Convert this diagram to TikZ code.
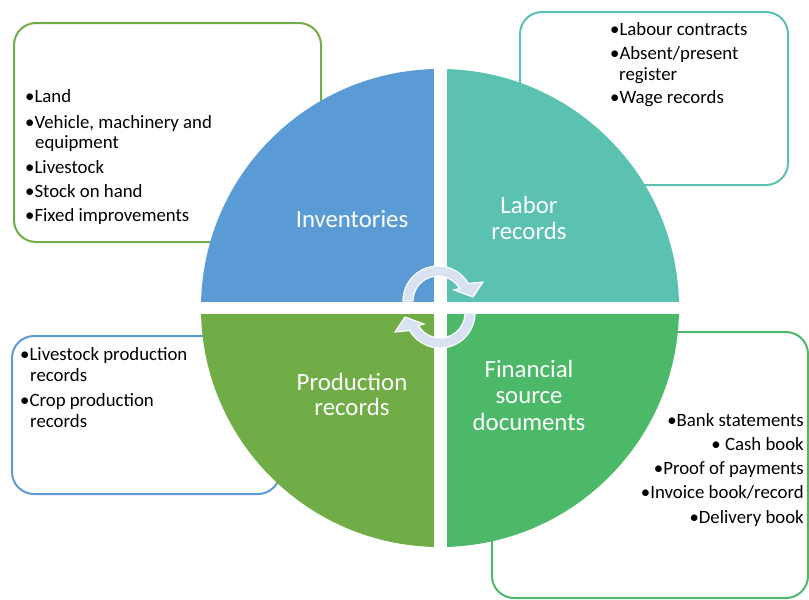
\documentclass[tikz,border=0pt]{standalone}
\usepackage{fontspec}
\setmainfont{Carlito}
\definecolor{cInv}{RGB}{91,155,213}
\definecolor{cLab}{RGB}{91,194,178}
\definecolor{cPro}{RGB}{112,173,71}
\definecolor{cFin}{RGB}{76,185,104}
\definecolor{arrowfill}{RGB}{216,226,242}
\begin{document}
\begin{tikzpicture}[x=1pt,y=-1pt,
  box/.style={line width=2pt, rounded corners=22pt},
  bul/.style={anchor=base west, inner sep=0pt, font=\fontsize{18.8}{21}\selectfont},
  bulr/.style={anchor=base east, inner sep=0pt, font=\fontsize{18.8}{21}\selectfont},
  lab/.style={anchor=base, inner sep=0pt, text=white, font=\fontsize{24.8}{26}\selectfont},
  arr/.style={fill=arrowfill, draw=white, line width=1.2pt}]
\useasboundingbox (0,0) rectangle (809,600);
\clip (0,0) rectangle (809,600);
% outline boxes
\draw[box, draw=cPro] (14,23) rectangle (321,242);
\draw[box, draw=cLab] (520,12) rectangle (788,185);
\draw[box, draw=cInv] (12,336) rectangle (280,494);
\draw[box, draw=cFin] (492,332) rectangle (808,598);
% quadrants
\fill[cInv] (440,308) -- +(180:239) arc[start angle=180,end angle=270,radius=239] -- cycle;
\fill[cLab] (440,308) -- +(270:239) arc[start angle=270,end angle=360,radius=239] -- cycle;
\fill[cFin] (440,308) -- +(0:239) arc[start angle=0,end angle=90,radius=239] -- cycle;
\fill[cPro] (440,308) -- +(90:239) arc[start angle=90,end angle=180,radius=239] -- cycle;
% white gaps
\fill[white] (433.5,60) rectangle (446.5,556);
\fill[white] (195,302) rectangle (685,314);
% circular arrows
\begin{scope}[shift={(438,301)}]
\filldraw[arr] (180:35) arc[start angle=180,end angle=330,radius=35] -- (45,-19) -- (35,-4) -- (16,-11) -- (330:25) arc[start angle=330,end angle=180,radius=25] -- cycle;
\end{scope}
\begin{scope}[shift={(440,313)}]
\filldraw[arr] (0:35) arc[start angle=0,end angle=150,radius=35] -- (-45,19) -- (-35,4) -- (-16,11) -- (150:25) arc[start angle=150,end angle=0,radius=25] -- cycle;
\end{scope}
% labels
\node[lab] (inv) at (352,227) {Inventories};
\node[lab] (lab1) at (529,213) {Labor};
\node[lab] (lab2) at (529,239) {records};
\node[lab] (pro1) at (352,390) {Production};
\node[lab] (pro2) at (352,415) {records};
\node[lab] (fin1) at (529,377) {Financial};
\node[lab] (fin2) at (529,403) {source};
\node[lab] (fin3) at (529,430) {documents};
% top-left list
\node[bul] (a1) at (25,102) {•Land};
\node[bul] (a2) at (25,128) {•Vehicle, machinery and};
\node[bul] (a3) at (35,148) {equipment};
\node[bul] (a4) at (25,173) {•Livestock};
\node[bul] (a5) at (25,197) {•Stock on hand};
\node[bul] (a6) at (25,221) {•Fixed improvements};
% top-right list
\node[bul] (b1) at (610,35) {•Labour contracts};
\node[bul] (b2) at (610,59) {•Absent/present};
\node[bul] (b3) at (619,80) {register};
\node[bul] (b4) at (610,103) {•Wage records};
% bottom-left list
\node[bul] (c1) at (20,360) {•Livestock production};
\node[bul] (c2) at (30,381) {records};
\node[bul] (c3) at (20,406) {•Crop production};
\node[bul] (c4) at (30,427) {records};
% bottom-right list
\node[bulr] (d1) at (804,426) {•Bank statements};
\node[bulr] (d2) at (804,450) {• Cash book};
\node[bulr] (d3) at (804,474) {•Proof of payments};
\node[bulr] (d4) at (804,498) {•Invoice book/record};
\node[bulr] (d5) at (804,523) {•Delivery book};
\end{tikzpicture}
\end{document}
